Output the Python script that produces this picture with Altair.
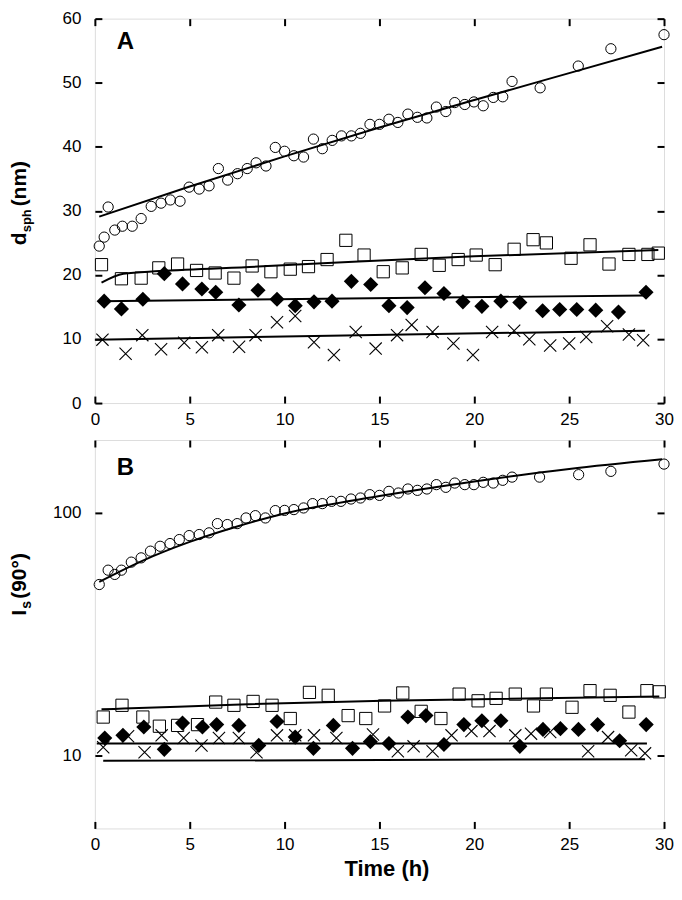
import altair as alt
import pandas as pd

# ---------------- Panel A : d_sph (nm) ----------------
a_circ_t = [0.23, 0.49, 0.70, 1.05, 1.45, 1.97, 2.44, 2.97, 3.49, 3.98, 4.49, 4.97, 5.50, 6.02, 6.51,
            7.00, 7.52, 8.03, 8.50, 9.02, 9.51, 10.0, 10.49, 11.0, 11.52, 11.99, 12.51, 13.0, 13.52,
            14.0, 14.5, 15.0, 15.5, 15.97, 16.5, 17.0, 17.5, 18.0, 18.5, 18.97, 19.5, 19.98, 20.47,
            21.0, 21.5, 21.99, 23.47, 25.48, 27.2, 30.0]
a_circ_v = [24.5, 25.9, 30.6, 27.0, 27.6, 27.6, 28.8, 30.7, 31.2, 31.7, 31.5, 33.7, 33.4, 33.9, 36.6,
            34.8, 35.8, 36.6, 37.5, 37.0, 39.9, 39.3, 38.6, 38.4, 41.2, 39.7, 41.0, 41.7, 41.7,
            42.1, 43.5, 43.5, 44.3, 43.8, 45.1, 44.6, 44.5, 46.2, 45.5, 46.9, 46.6, 47.0, 46.4,
            47.7, 47.8, 50.2, 49.2, 52.6, 55.3, 57.5]

a_sq_t = [0.35, 1.4, 2.44, 3.37, 4.36, 5.36, 6.34, 7.33, 8.29, 9.28, 10.3, 11.26, 12.24, 13.23, 14.19,
          15.2, 16.2, 17.2, 18.15, 19.15, 20.1, 21.1, 22.1, 23.1, 23.8, 25.1, 26.1, 27.1, 28.15, 29.15, 29.7]
a_sq_v = [21.6, 19.4, 19.5, 21.1, 21.7, 20.7, 20.3, 19.5, 21.4, 20.5, 20.9, 21.3, 22.4, 25.4, 23.1,
          20.5, 21.1, 23.2, 21.5, 22.4, 23.1, 21.6, 24.0, 25.5, 25.0, 22.6, 24.7, 21.7, 23.2, 23.2, 23.4]

a_dia_t = [0.49, 1.4, 2.53, 3.66, 4.62, 5.64, 6.37, 7.59, 8.6, 9.6, 10.56, 11.55, 12.5, 13.52, 14.54,
           15.5, 16.46, 17.4, 18.4, 19.4, 20.4, 21.4, 22.4, 23.6, 24.5, 25.4, 26.4, 27.6, 29.05]
a_dia_v = [15.9, 14.7, 16.2, 20.2, 18.6, 17.8, 17.3, 15.3, 17.6, 16.2, 15.2, 15.8, 15.9, 19.0, 18.5,
           15.2, 14.9, 18.0, 17.1, 15.8, 15.1, 15.9, 15.7, 14.4, 14.6, 14.6, 14.5, 14.2, 17.3]

a_x_t = [0.4, 1.62, 2.5, 3.49, 4.71, 5.64, 6.5, 7.6, 8.47, 9.6, 10.56, 11.55, 12.6, 13.75, 14.8,
         15.93, 16.7, 17.8, 18.9, 19.93, 20.94, 22.1, 22.9, 24.0, 25.0, 25.9, 27.0, 28.15, 28.9]
a_x_v = [9.9, 7.7, 10.6, 8.4, 9.4, 8.7, 10.6, 8.8, 10.6, 12.6, 13.6, 9.5, 7.5, 11.1, 8.5,
         10.6, 12.2, 11.1, 9.3, 7.5, 11.1, 11.3, 9.95, 9.0, 9.3, 10.3, 12.0, 10.7, 9.8]

# fitted curves
a_fit_circ_t = [0.23, 5, 10, 15, 20, 25, 29.9]
a_fit_circ_v = [29.1, 33.8, 38.5, 43.0, 47.3, 51.5, 55.6]
a_fit_sq_t = [0.35, 1.5, 3.4, 8.6, 13.9, 20, 29.7]
a_fit_sq_v = [18.8, 20.2, 20.6, 21.3, 22.1, 22.9, 23.9]
a_fit_dia_t = [0.3, 29.0]
a_fit_dia_v = [15.9, 16.8]
a_fit_x_t = [0.0, 29.0]
a_fit_x_v = [9.9, 11.3]

# ---------------- Panel B : I_s(90°) ----------------
b_circ_t = [0.23, 0.70, 1.05, 1.4, 1.92, 2.44, 2.93, 3.44, 3.96, 4.45, 4.97, 5.5, 6.02, 6.46, 6.98,
            7.5, 7.97, 8.46, 8.99, 9.51, 10.0, 10.49, 11.0, 11.48, 11.99, 12.48, 12.97, 13.5, 14.0,
            14.49, 15.0, 15.5, 16.0, 16.5, 17.0, 17.5, 18.0, 18.5, 18.97, 19.5, 19.98, 20.47, 21.0,
            21.5, 21.99, 23.44, 25.5, 27.2, 30.0]
b_circ_v = [50.7, 58.1, 55.8, 58.1, 62.7, 65.3, 69.6, 72.9, 74.8, 77.7, 80.7, 81.5, 82.8, 90.4, 89.6,
            90.4, 95.4, 97.5, 95.4, 102.3, 102.5, 103.3, 104.9, 109.3, 109.3, 111.7, 111.7, 114.2, 115.3,
            119.0, 118.2, 122.8, 120.9, 125.6, 124.0, 125.6, 130.9, 127.6, 132.9, 130.9, 130.9, 133.8, 132.9,
            136.4, 140.6, 140.6, 143.9, 148.5, 159.1]

b_sq_t = [0.44, 1.43, 2.53, 3.4, 4.36, 5.41, 6.37, 7.33, 8.34, 9.34, 10.3, 11.31, 12.3, 13.35, 14.28,
          15.27, 16.23, 17.2, 18.24, 19.2, 20.2, 21.15, 22.16, 23.12, 23.8, 25.15, 26.1, 27.16, 28.15, 29.1, 29.75]
b_sq_v = [14.4, 16.1, 14.4, 13.2, 13.3, 13.4, 16.6, 16.1, 16.7, 16.1, 14.2, 18.2, 17.7, 14.6, 14.2,
          16.0, 18.1, 15.2, 14.2, 17.9, 16.8, 17.2, 17.9, 16.0, 17.9, 15.8, 18.5, 17.7, 15.1, 18.5, 18.3]

b_dia_t = [0.52, 1.48, 2.58, 3.66, 4.62, 5.67, 6.42, 7.59, 8.64, 9.6, 10.56, 11.52, 12.57, 13.58, 14.52,
           15.5, 16.5, 17.45, 18.4, 19.45, 20.4, 21.4, 22.4, 23.62, 24.54, 25.49, 26.5, 27.66, 29.06]
b_dia_v = [11.8, 12.1, 13.1, 10.6, 13.6, 13.1, 13.4, 13.3, 11.0, 13.8, 11.9, 10.7, 13.3, 10.7, 11.4,
           11.2, 14.4, 14.6, 11.1, 13.4, 13.9, 13.9, 10.9, 12.8, 12.9, 12.8, 13.4, 11.5, 13.4]

b_x_t = [0.44, 1.75, 2.62, 3.52, 4.68, 5.62, 6.54, 7.59, 8.52, 9.6, 10.56, 11.55, 12.73, 14.66,
         15.97, 16.8, 17.8, 18.8, 19.85, 20.8, 22.16, 22.99, 24.0, 26.0, 27.05, 28.27, 29.0]
b_x_v = [10.8, 12.0, 10.3, 12.1, 11.8, 11.0, 11.8, 11.8, 10.3, 12.1, 12.1, 12.1, 11.8, 12.2,
         10.4, 10.9, 10.4, 12.1, 12.6, 12.6, 12.1, 12.3, 12.5, 10.4, 11.9, 10.5, 10.2]

b_fit_circ_t = [0.23, 2.5, 5, 7.5, 10, 15, 20, 25, 29.9]
b_fit_circ_v = [52.0, 63.5, 76.0, 88.0, 99.5, 117.5, 135.0, 152.0, 166.5]
b_fit_sq_t = [0.35, 1.5, 7.3, 15.2, 29.75]
b_fit_sq_v = [15.5, 15.6, 16.2, 16.8, 17.5]
b_fit_dia_t = [0.1, 29.1]
b_fit_dia_v = [11.2, 11.2]
b_fit_x_t = [0.44, 29.0]
b_fit_x_v = [9.5, 9.65]

x_ticks = [0, 5, 10, 15, 20, 25, 30]
a_y_ticks = [0, 10, 20, 30, 40, 50, 60]
b_y_ticks = [10, 100]

W = 570
FONT = "Liberation Sans"
CROSS = "M-1,-1L1,1M1,-1L-1,1"


def df(t, v, s=None):
    d = pd.DataFrame({"t": t, "v": v})
    if s is not None:
        d["s"] = s
    return d


def panel(circ, sq, dia, xx, fits, yscale, yticks, letter, letter_y, title_parts, xtitle, H):
    xs = alt.Scale(domain=[0, 30], nice=False)
    X = alt.X("t:Q", scale=xs, axis=None)
    Y = alt.Y("v:Q", scale=yscale, axis=None)

    circles = alt.Chart(df(*circ)).mark_point(
        shape="circle", size=105, filled=False, color="black", strokeWidth=1, opacity=1
    ).encode(x=X, y=Y)
    squares = alt.Chart(df(*sq)).mark_point(
        shape="square", size=150, filled=False, color="black", strokeWidth=1, opacity=1
    ).encode(x=X, y=Y)
    diamonds = alt.Chart(df(*dia)).mark_point(
        shape="diamond", size=230, filled=True, color="black", opacity=1
    ).encode(x=X, y=Y)
    crosses = alt.Chart(df(*xx)).mark_point(
        shape=CROSS, size=150, filled=False, color="black", strokeWidth=1.1, opacity=1
    ).encode(x=X, y=Y)

    fit_df = pd.concat([df(t, v, name) for (t, v, name) in fits], ignore_index=True)
    lines = alt.Chart(fit_df).mark_line(
        color="black", strokeWidth=2, interpolate="monotone"
    ).encode(x=X, y=Y, detail="s:N")

    ax_common = dict(offset=-7, tickSize=7, tickWidth=2, tickColor="black", domain=False,
                     grid=False, labelFlush=False, labelFont=FONT, labelFontSize=17,
                     labelColor="black")
    bottom_axis = alt.Axis(orient="bottom", values=x_ticks, labelPadding=8, format="d",
                           title=xtitle if xtitle else None,
                           titleFont=FONT, titleFontSize=22, titleFontWeight="bold",
                           titleColor="black", titlePadding=6, titleX=W / 2 + 7,
                           **ax_common)
    left_axis = alt.Axis(orient="left", values=yticks, labelPadding=14, format="d",
                         title=None, **ax_common)
    top_axis = alt.Axis(orient="top", values=x_ticks, labels=False, title=None, **ax_common)
    right_axis = alt.Axis(orient="right", values=yticks, labels=False, title=None, **ax_common)

    axes1 = alt.Chart(fit_df).mark_point(opacity=0).encode(
        x=alt.X("t:Q", scale=xs, axis=bottom_axis),
        y=alt.Y("v:Q", scale=yscale, axis=left_axis),
    )
    axes2 = alt.Chart(fit_df).mark_point(opacity=0).encode(
        x=alt.X("t:Q", scale=xs, axis=top_axis),
        y=alt.Y("v:Q", scale=yscale, axis=right_axis),
    )

    lab = alt.Chart(pd.DataFrame({"txt": [letter]})).mark_text(
        font=FONT, fontWeight="bold", fontSize=24, align="left", baseline="alphabetic",
        color="black"
    ).encode(text="txt:N", x=alt.value(22), y=alt.value(letter_y))

    title_layers = []
    for txt, size, xpos, ypos in title_parts:
        title_layers.append(
            alt.Chart(pd.DataFrame({"txt": [txt]})).mark_text(
                font=FONT, fontWeight="bold", fontSize=size, angle=270, align="left",
                baseline="alphabetic", color="black"
            ).encode(text="txt:N", x=alt.value(xpos), y=alt.value(ypos))
        )

    return alt.layer(
        axes1, axes2, lines, squares, crosses, diamonds, circles, lab, *title_layers
    ).resolve_axis(x="independent", y="independent").properties(width=W, height=H)


panel_a = panel(
    (a_circ_t, a_circ_v), (a_sq_t, a_sq_v), (a_dia_t, a_dia_v), (a_x_t, a_x_v),
    [(a_fit_circ_t, a_fit_circ_v, "c"), (a_fit_sq_t, a_fit_sq_v, "s"),
     (a_fit_dia_t, a_fit_dia_v, "d"), (a_fit_x_t, a_fit_x_v, "x")],
    alt.Scale(domain=[0, 60], nice=False, zero=False),
    a_y_ticks, "A", 30,
    [("d", 21, -69, 227), ("sph", 13, -64, 214), ("(nm)", 21, -69, 188)],
    None, 385,
)

panel_b = panel(
    (b_circ_t, b_circ_v), (b_sq_t, b_sq_v), (b_dia_t, b_dia_v), (b_x_t, b_x_v),
    [(b_fit_circ_t, b_fit_circ_v, "c"), (b_fit_sq_t, b_fit_sq_v, "s"),
     (b_fit_dia_t, b_fit_dia_v, "d"), (b_fit_x_t, b_fit_x_v, "x")],
    alt.Scale(type="log", domain=[5, 200], nice=False),
    b_y_ticks, "B", 35,
    [("I", 21, -69, 176), ("s", 14, -64, 169), ("(90°)", 21, -69, 159)],
    "Time (h)", 389,
)

chart = alt.vconcat(panel_a, panel_b, spacing=10).properties(
    padding={"left": 0, "top": 0, "right": 0, "bottom": 0}
).configure_view(stroke="black", strokeWidth=2).configure(background="white")

chart.save("out.html", embed_options={"renderer": "svg", "actions": False})
